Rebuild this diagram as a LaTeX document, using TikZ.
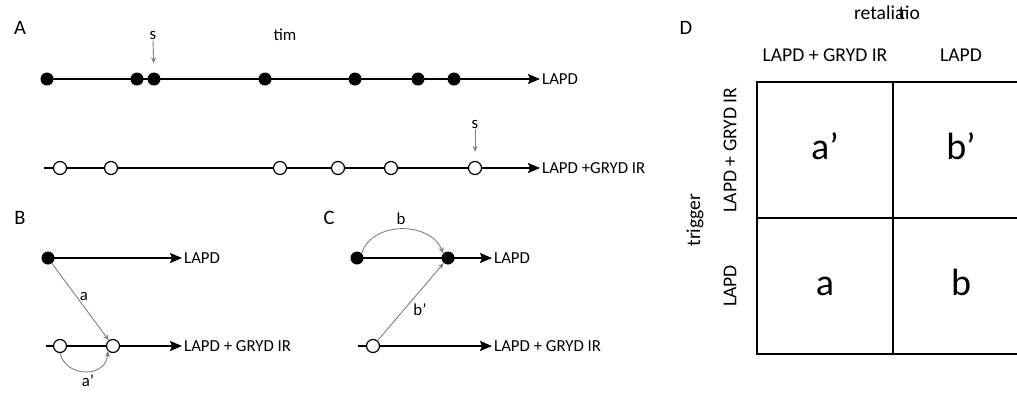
\documentclass[tikz,border=0pt]{standalone}
\usepackage{fontspec}
\setmainfont{Carlito}
\usetikzlibrary{arrows.meta, positioning}
\newcommand{\dotcolor}{black}
\newcommand{\linkcolor}{gray}

\begin{document}
\begin{tikzpicture}[x=1pt, y=-1pt]
	\tikzstyle{full}=[circle, fill=\dotcolor, minimum size=13pt, inner sep=0pt]
	\tikzstyle{hollow}=[circle, draw=black, fill=white, line width=1.2pt, minimum size=13pt, inner sep=0pt]
	\tikzstyle{axis}=[line width=1.5pt, -{Stealth[length=12pt, width=10pt, inset=2pt]}]
	\tikzstyle{link}=[draw=\linkcolor, line width=0.9pt, -{Stealth[length=6pt, width=5pt]}]
	\tikzstyle{lbl}=[anchor=west, inner sep=2pt, font=\fontsize{16.8}{18}\selectfont]
	\tikzstyle{tag}=[font=\fontsize{16.8}{18}\selectfont, inner sep=1pt]
	\tikzstyle{panel}=[font=\fontsize{20.5}{22}\selectfont]
	\tikzstyle{head}=[font=\fontsize{19.6}{22}\selectfont]
	\tikzstyle{cell}=[draw=black, line width=1.5pt, minimum size=136pt, inner sep=0pt, text height=18pt, text depth=0pt, font=\fontsize{38}{40}\selectfont]
	\useasboundingbox (0,0) rectangle (1017,392);

	% A
	\node (pA) at (20,28) [panel]{A};
	\node (tim) at (285,35) [tag]{tim};
	\node (lA1) at (540,79) [lbl]{LAPD};
	\node (lA2) at (540,168) [lbl]{LAPD +GRYD IR};
	\coordinate (sA1) at (47,79);
	\coordinate (sA2) at (44,168);
	\draw[axis] (sA1) -- (lA1.west);
	\draw[axis] (sA2) -- (lA2.west);
	\foreach \x [count=\i] in {47,137,154,265,355,418,454}
		\node (fa\i) at (\x,79) [full]{};
	\foreach \x [count=\i] in {60,111,280,338,391,475}
		\node (oa\i) at (\x,168) [hollow]{};
	\node (sa) at (153,35) [tag]{s};
	\node (sb) at (475,124) [tag]{s};
	\draw[link, shorten >=9pt] (sa.south) -- (fa3.north);
	\draw[link, shorten >=9pt] (sb.south) -- (oa6.north);

	% B
	\node (pB) at (20,218) [panel]{B};
	\node (lB1) at (182,258) [lbl]{LAPD};
	\node (lB2) at (182,346) [lbl]{LAPD + GRYD IR};
	\coordinate (sB1) at (48,258);
	\coordinate (sB2) at (46,346);
	\draw[axis] (sB1) -- (lB1.west);
	\draw[axis] (sB2) -- (lB2.west);
	\node (fb1) at (48,258) [full]{};
	\node (ob1) at (60,346) [hollow]{};
	\node (ob2) at (113,346) [hollow]{};
	\draw[link] (fb1) --node[tag, pos=0.43, right=2pt]{a} (ob2);
	\draw[link] (ob1.south) .. controls (66,378) and (106,378) .. (ob2.south west);
	\node (apB) at (88,381) [tag]{a’};

	% C
	\node (pC) at (329,218) [panel]{C};
	\node (lC1) at (492,258) [lbl]{LAPD};
	\node (lC2) at (492,346) [lbl]{LAPD + GRYD IR};
	\coordinate (sC1) at (357,258);
	\coordinate (sC2) at (358,346);
	\draw[axis] (sC1) -- (lC1.west);
	\draw[axis] (sC2) -- (lC2.west);
	\node (fc1) at (357,258) [full]{};
	\node (fc2) at (448,258) [full]{};
	\node (oc1) at (373,346) [hollow]{};
	\draw[link] (fc1.north east) .. controls (372,221) and (430,221) .. (fc2.north west);
	\node (bC) at (401,219) [tag]{b};
	\draw[link] (oc1) --node[tag, pos=0.4, right=8pt]{b’} (fc2);

	% D
	\node (pD) at (686,28) [panel]{D};
	\node (ret) at (887,13) [head]{retalia\kern-0.3em tio};
	\node (cAp) at (825,150) [cell]{a’};
	\node (cBp) at (961,150) [cell]{b’};
	\node (cA) at (825,286) [cell]{a};
	\node (cB) at (961,286) [cell]{b};
	\node (hc1) at (825,55) [head]{LAPD + GRYD IR};
	\node (hc2) at (961,55) [head]{LAPD};
	\node (hr1) at (730,150) [head, rotate=90]{LAPD + GRYD IR};
	\node (hr2) at (730,286) [head, rotate=90]{LAPD};
	\node (trg) at (695,220) [head, rotate=90]{trigger};
\end{tikzpicture}
\end{document}
